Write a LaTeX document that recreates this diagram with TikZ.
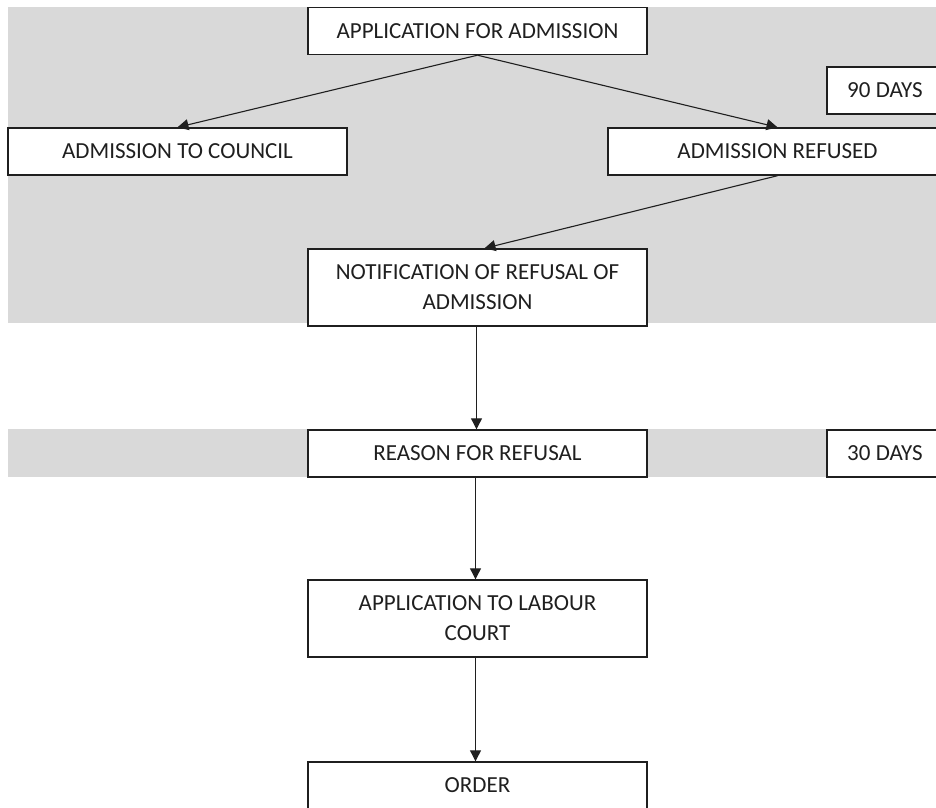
\documentclass[tikz,border=0pt]{standalone}
\usepackage{fontspec}
\setmainfont{Carlito}
\usetikzlibrary{arrows.meta}
\definecolor{band}{HTML}{D9D9D9}
\definecolor{ink}{HTML}{1F1F1F}
\tikzset{
  stagebox/.style={draw=ink, line width=1.4pt, fill=white, align=center,
    inner sep=0pt, minimum width=339pt, minimum height=47pt,
    font=\fontsize{23pt}{30pt}\selectfont, text=ink},
  tallbox/.style={stagebox, minimum height=77pt},
  daysbox/.style={stagebox, minimum width=116pt},
  flow/.style={draw=ink, line width=1.1pt, -{Triangle[length=11pt,width=11pt]}},
}
\begin{document}
\begin{tikzpicture}[x=1pt, y=-1pt]
  \useasboundingbox (0,0) rectangle (936,807);
  \clip (0,0) rectangle (936,807);
  % shaded time bands
  \fill[band] (8,7) rectangle (936,323);
  \fill[band] (8,429) rectangle (936,477);
  % stages
  \node[stagebox] (app)     at (477.5,31)  {APPLICATION FOR ADMISSION};
  \node[stagebox] (council) at (177.5,151.5) {ADMISSION TO COUNCIL};
  \node[stagebox] (refused) at (777.5,151.5) {ADMISSION REFUSED};
  \node[daysbox]  (d90)     at (885,90.5)  {90 DAYS};
  \node[tallbox]  (notif)   at (477.5,287.5) {NOTIFICATION OF REFUSAL OF\\ADMISSION};
  \node[stagebox] (reason)  at (477.5,453.5) {REASON FOR REFUSAL};
  \node[daysbox]  (d30)     at (885,453.5) {30 DAYS};
  \node[tallbox]  (court)   at (477.5,618.5) {APPLICATION TO LABOUR\\COURT};
  \node[stagebox] (order)   at (477.5,785.5) {ORDER};
  % connectors
  \coordinate (notifin) at ([xshift=7pt]notif.north);
  \draw[flow] (app.south) -- (council.north);
  \draw[flow] (app.south) -- (refused.north);
  \draw[flow] (refused.south) -- (notifin);
  \draw[flow] ([xshift=-1pt]notif.south) -- ([xshift=-1pt]reason.north);
  \draw[flow] ([xshift=-2pt]reason.south) -- ([xshift=-2pt]court.north);
  \draw[flow] ([xshift=-2pt]court.south) -- ([xshift=-2pt]order.north);
\end{tikzpicture}
\end{document}
